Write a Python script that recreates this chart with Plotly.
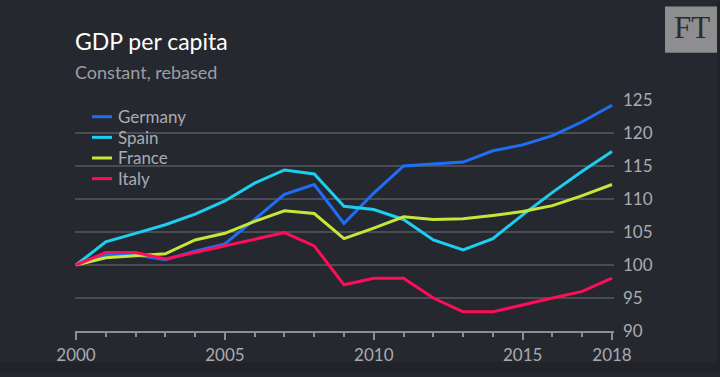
import plotly.graph_objects as go

years = list(range(2000, 2019))
germany = [100, 101.5, 101.5, 100.8, 102.1, 103.2, 106.9, 110.7, 112.2, 106.3, 110.9,
           115.0, 115.3, 115.6, 117.3, 118.2, 119.6, 121.7, 124.2]
spain = [100, 103.5, 104.8, 106.1, 107.7, 109.7, 112.4, 114.4, 113.8, 108.9, 108.4,
         106.9, 103.8, 102.3, 104.0, 107.6, 111.0, 114.2, 117.2]
france = [100, 101.1, 101.4, 101.7, 103.8, 104.8, 106.6, 108.2, 107.8, 104.0, 105.6,
          107.3, 106.9, 107.0, 107.5, 108.1, 109.0, 110.5, 112.2]
italy = [100, 101.9, 101.9, 100.9, 101.9, 102.9, 103.9, 104.9, 102.9, 97.0, 98.0,
         98.0, 95.0, 92.9, 92.9, 94.0, 95.0, 96.0, 98.0]

series_names = ["Germany", "Spain", "France", "Italy"]
series_values = [germany, spain, france, italy]
series_colors = ["#1e6ff5", "#1ccff0", "#c6e63a", "#ff0d58"]
y_ticks = [90, 95, 100, 105, 110, 115, 120, 125]
x_ticks = [2000, 2005, 2010, 2015, 2018]

BG = "#26282f"
EDGE = "#222329"
FONT = "Lato"
W, H = 720, 377
L, R, T, B = 75, 614, 100, 335


def px_x(px):
    return (px - L) / (R - L)


def px_y(py):
    return (B - py) / (B - T)


fig = go.Figure()
for name, vals, col in zip(series_names, series_values, series_colors):
    fig.add_trace(go.Scatter(x=years, y=vals, mode="lines", name=name,
                             line=dict(color=col, width=3), showlegend=False))

shapes = []
shapes.append(dict(type="line", xref="paper", yref="y", x0=0, x1=1, y0=100, y1=100,
                   line=dict(color="#a0a0a4", width=1.5), layer="below"))
# slightly darker frame edges at right and bottom
shapes.append(dict(type="rect", xref="paper", yref="paper",
                   x0=px_x(0), x1=px_x(720), y0=px_y(377), y1=px_y(367),
                   fillcolor=EDGE, line=dict(width=0), layer="below"))
shapes.append(dict(type="rect", xref="paper", yref="paper",
                   x0=px_x(717), x1=px_x(720), y0=px_y(377), y1=px_y(0),
                   fillcolor=EDGE, line=dict(width=0), layer="below"))
annotations = []
leg_rows = [117, 138, 159, 180]
for name, col, ry in zip(series_names, series_colors, leg_rows):
    shapes.append(dict(type="line", xref="paper", yref="paper",
                       x0=px_x(92), x1=px_x(112), y0=px_y(ry), y1=px_y(ry),
                       line=dict(color=col, width=3)))
    annotations.append(dict(text=name, xref="paper", yref="paper", x=px_x(116), y=px_y(ry),
                            xanchor="left", yanchor="middle", showarrow=False,
                            font=dict(family=FONT, size=17, color="#a9abb2")))

# FT logo box
shapes.append(dict(type="rect", xref="paper", yref="paper",
                   x0=px_x(665), x1=px_x(717), y0=px_y(52), y1=px_y(5),
                   fillcolor="#8e8e90", line=dict(width=0), layer="above"))
annotations.append(dict(text="FT", xref="paper", yref="paper", x=px_x(691.5), y=px_y(26),
                        xanchor="center", yanchor="middle", showarrow=False,
                        font=dict(family="Liberation Serif", size=31, color="#2b2b2d")))

annotations.append(dict(text="GDP per capita", xref="paper", yref="paper", x=px_x(73), y=px_y(40),
                        xanchor="left", yanchor="middle", showarrow=False,
                        font=dict(family=FONT, size=23, color="#ffffff")))
annotations.append(dict(text="Constant, rebased", xref="paper", yref="paper", x=px_x(73), y=px_y(72),
                        xanchor="left", yanchor="middle", showarrow=False,
                        font=dict(family=FONT, size=18, color="#9c9ea5")))

fig.update_layout(
    width=W, height=H,
    margin=dict(l=L, r=W - R, t=T, b=H - B, pad=0),
    paper_bgcolor=BG, plot_bgcolor=BG,
    shapes=shapes, annotations=annotations,
    font=dict(family=FONT, color="#9c9ea5"),
    xaxis=dict(range=[2000 - 1 / 29.8, 2018 + 2 / 29.8], tickvals=x_ticks,
               showgrid=False, zeroline=False, showline=True, linecolor="#8c8e94", linewidth=1.5,
               ticks="outside", ticklen=7, tickcolor="#8c8e94", tickwidth=1.5,
               ticklabelstandoff=1,
               minor=dict(dtick=1, tick0=2000, ticks="outside", ticklen=4,
                          tickcolor="#8c8e94", tickwidth=1.5),
               tickfont=dict(family=FONT, size=17, color="#a9abb2")),
    yaxis=dict(range=[90, 125], tickvals=y_ticks, side="right", showgrid=True,
               gridcolor="#4a4c54", gridwidth=1.5, zeroline=False, showline=False,
               ticks="", ticklabelstandoff=8,
               tickfont=dict(family=FONT, size=17, color="#a9abb2")),
)

fig.write_html("out.html", config={"displayModeBar": False},
               post_script="document.body.style.margin='0';document.body.style.background='%s';" % BG)
